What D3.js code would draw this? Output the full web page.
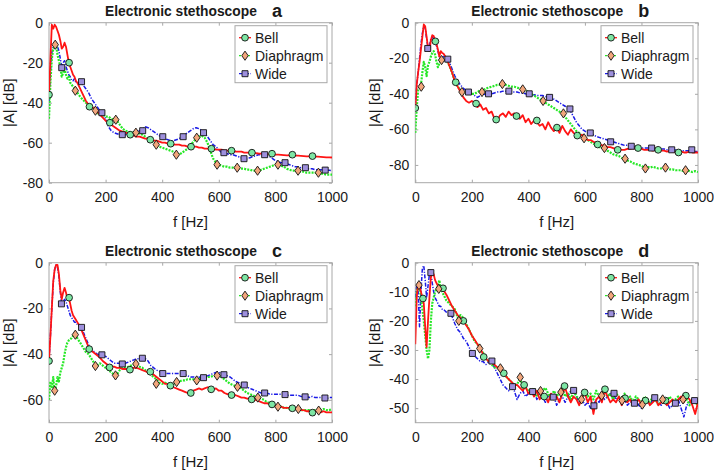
<!DOCTYPE html>
<html><head><meta charset="utf-8">
<script src="https://cdn.jsdelivr.net/npm/d3@7"></script>
<style>
body{margin:0;background:#fff}
svg{display:block;font-family:Arial,"Liberation Sans",sans-serif}
</style>
</head><body>
<svg id="chart" width="714" height="471"></svg>
<script>
// ---------- DATA ----------
const freq = [0,5,10,15,20,25,30,35,40,45,50,55,60,65,70,75,80,85,90,95,100,
 110,120,130,140,150,160,170,180,190,200,
 210,220,230,240,250,260,270,280,290,300,
 310,320,330,340,350,360,370,380,390,400,
 410,420,430,440,450,460,470,480,490,500,
 510,520,530,540,550,560,570,580,590,600,
 610,620,630,640,650,660,670,680,690,700,
 710,720,730,740,750,760,770,780,790,800,
 810,820,830,840,850,860,870,880,890,900,
 910,920,930,940,950,960,970,980,990,1000];

const seriesNames = ["Bell","Diaphragm","Wide"];
const panelLetters = ["a","b","c","d"];
const panelTitle = "Electronic stethoscope";
const yDomains = [[-80,0],[-90,0],[-70,0],[-55,0]];
const yTickValues = [[-80,-60,-40,-20,0],[-80,-60,-40,-20,0],[-60,-40,-20,0],[-50,-40,-30,-20,-10,0]];
const xTickValues = [0,200,400,600,800,1000];
const xLabel = "f [Hz]";
const yLabel = "|A| [dB]";

// Panel a
const bellA = [-36,-18,-1,-3,-1,-2,-4,-6,-9,-13,-12,-10,-12,-16,-20,-22,-24,-26,-27,-29,-30,
 -33,-36,-39,-41,-42,-43,-44.5,-46,-47.5,-49,
 -50,-51,-52,-53,-54,-54.5,-55,-55.5,-56,-56.5,
 -57,-57,-57.5,-58,-58,-58.5,-59,-59,-59.5,-60,
 -60,-60.5,-60.5,-61,-61,-61,-61.5,-61.5,-62,-62,
 -62,-62,-62.5,-62.5,-63,-63,-63,-63,-63.5,-63.5,
 -63.5,-64,-64,-64,-64,-64.5,-64.5,-64.5,-65,-65,
 -65,-65,-65.2,-65.4,-65.5,-65.6,-65.7,-65.8,-65.9,-66,
 -66,-66.1,-66.2,-66.3,-66.3,-66.4,-66.5,-66.5,-66.6,-66.7,
 -66.8,-66.8,-66.9,-67,-67,-67.1,-67.2,-67.3,-67.3,-67.4];
const diaphragmA = [-48,-30,-18,-13,-12,-11,-16,-19,-22,-27,-25,-23,-26,-28,-27,-30,-31,-32,-33,-34,-35,
 -37,-38.5,-40,-41,-42,-43.5,-45,-46,-46,-47,
 -47,-48,-48.5,-49,-51,-53,-54,-54.5,-55,-55,
 -55,-55.5,-56,-57,-58,-59,-60,-61,-62,-62.5,
 -63,-63.5,-64,-64.5,-65.5,-66,-65,-64,-63,-61.5,
 -59.5,-58,-57,-56.5,-57.5,-60,-64,-68,-70,-71,
 -71.5,-72,-72,-72.5,-72.5,-72.5,-73,-73,-73,-73.5,
 -73.5,-74,-74,-74,-73.5,-73,-72.5,-72,-71.5,-71,
 -71,-71.5,-72,-73,-73.5,-74,-74,-74.5,-74.5,-74.5,
 -75,-75,-75,-75,-75.5,-75.5,-75.5,-76,-76,-76];
const wideA = [-40,-25,-15,-12,-11,-10,-12,-14,-18,-22,-20,-19,-22,-24,-26,-27,-29,-29,-28,-30,-30,
 -30,-31,-33,-35,-38,-40,-42,-44,-45,-48,
 -52,-54,-55,-55.5,-56,-56,-56,-55.5,-55,-55,
 -54.5,-54,-53.5,-52,-52.5,-53.5,-54.5,-55.5,-56.5,-57,
 -58,-58.5,-59,-59,-58.5,-58,-57,-56,-55,-54,
 -53,-52.5,-53,-54,-55,-57,-59,-61,-62,-63.5,
 -65,-65,-65.5,-66,-66,-66.5,-67,-67.5,-68,-68,
 -67.5,-67,-66.5,-66,-66,-66,-66.5,-67,-68,-69,
 -69.5,-70,-70,-70.5,-71,-71.5,-72,-72,-72.5,-72.5,
 -73,-73,-73,-73.5,-73.5,-73.5,-73.7,-73.8,-73.8,-74];
const bellMarkersA = [[0,-36],[71,-20],[143,-42],[215,-50],[287,-56],[358,-58.5],[430,-60.5],[502,-62],[574,-63],[645,-64],[717,-65],[788,-65.5],[860,-66],[931,-66.7]];
const diaphragmMarkersA = [[22,-11],[93,-34],[164,-44],[236,-48.5],[307,-55],[379,-61],[450,-66],[522,-57.5],[594,-71],[665,-72.5],[737,-74],[809,-71],[880,-74],[952,-75]];
const wideMarkersA = [[45,-22.5],[115,-29.5],[187,-45],[259,-56],[331,-54],[402,-57],[474,-57],[546,-55],[618,-65],[689,-68],[762,-66],[834,-70],[906,-72.5],[976,-73.7]];

// Panel b
const bellB = [-48,-35,-28,-22,-15,-8,-1,-2,-8,-14,-16,-10,-7,-7.5,-10,-12,-15,-19,-16,-17,-17.5,
 -20,-24,-28,-33,-36,-39,-42,-44,-45,-44,
 -45,-47.5,-46,-49,-48,-51,-50,-54,-55,-52,
 -51,-53,-50,-52,-51,-53,-54,-52,-56,-54,
 -57,-55,-56,-58,-57,-60,-56,-59,-61,-59,
 -62,-58,-61,-63,-60,-62,-63,-64,-63,-65,
 -66,-66,-67,-67.5,-68,-69,-69,-70,-70,-70.5,
 -71,-71,-71.5,-71.5,-71,-71,-70.5,-71,-71,-71,
 -71.5,-71.5,-71.5,-72,-71.5,-72,-72,-72,-72.5,-72,
 -72.5,-73,-73,-72.5,-73,-73,-72.5,-73,-73,-73];
const diaphragmB = [-62,-48,-38,-36,-35,-28,-22,-25,-30,-24,-22,-19,-17,-16,-18,-22,-25,-23,-21,-21,-21,
 -21,-24,-28,-33,-36,-38,-39,-40,-40,-40,
 -40,-39,-38,-38,-37,-36.5,-36,-35.5,-35,-35,
 -34.5,-35,-35.5,-36,-36,-36.5,-37,-37.5,-38,-39,
 -40,-41,-42,-43,-44,-45,-46,-47,-48,-49,
 -50,-51,-53,-55,-57,-59,-61,-62,-64,-65,
 -66,-67,-68,-69,-70,-70,-70.5,-72,-73,-74,
 -74.5,-75,-76,-77,-77.5,-78,-79,-79.5,-80,-80.5,
 -81.5,-81,-81.5,-81,-81.5,-82,-82,-81.5,-82,-82.5,
 -82.5,-83,-83,-83,-83.5,-83,-83.5,-84,-83.5,-84];
const wideB = [-48,-35,-28,-20,-12,-6,-2,-3,-9,-14,-13,-9,-8,-9,-11,-13,-16,-19,-20,-20,-19,
 -20,-22,-26,-30,-33,-35,-37,-38,-39,-40,
 -41,-42,-41,-40.5,-40,-40,-40,-39.5,-39,-39,
 -38.5,-38.5,-38.5,-39,-39,-39,-39.5,-39.5,-40,-40.5,
 -40.5,-40.5,-41,-41,-41,-41.5,-42,-42.5,-43,-44,
 -45,-46,-47,-48,-50,-53,-56,-58,-60,-61,
 -62,-62.5,-63,-64,-64.5,-65,-65.5,-66,-66.5,-67,
 -67.5,-68,-68.5,-69,-69,-69.5,-69.5,-70,-70,-70.5,
 -70.5,-70.5,-70.5,-71,-71,-71,-71,-71,-71.5,-71.5,
 -71.5,-71.5,-72,-72,-72,-72,-72,-72,-72.5,-72.5];
const bellMarkersB = [[0,-48],[71,-10.5],[143,-33.5],[215,-45.5],[286,-54.5],[358,-52.5],[430,-55],[501,-59],[573,-63.5],[645,-68.5],[716,-71.5],[788,-70.5],[859,-71.5],[931,-73]];
const diaphragmMarkersB = [[21,-36],[93,-21],[165,-39],[236,-39],[308,-34.5],[380,-37.5],[452,-44],[524,-51],[597,-65],[669,-70.5],[742,-76.5],[814,-82],[885,-81.5],[956,-83]];
const wideMarkersB = [[44,-14.5],[115,-20.5],[188,-39],[259,-40],[331,-38.5],[403,-40],[475,-42],[547,-48.5],[619,-62],[691,-67],[764,-69.5],[836,-70.5],[907,-71.5],[978,-71.5]];

// Panel c
const bellC = [-43,-32,-20,-8,-3,-1,-1,-5,-12,-16,-13,-11,-13,-16,-15,-18,-21,-23,-24,-25,-26,
 -28,-31,-34,-37,-38.5,-39.5,-40.5,-41.5,-43,-44,
 -45,-45.5,-45.5,-46,-46,-46.5,-46.5,-46.5,-46.5,-46,
 -46,-46.5,-47,-47.5,-48,-48,-49,-50,-51,-52,
 -53,-53,-54,-54.5,-55,-55.5,-56,-56.5,-57,-56.5,
 -56,-55.5,-55,-55.5,-55,-54.5,-55,-55.5,-55,-56,
 -56,-57,-57.5,-57.5,-58,-58,-58.5,-59,-59,-59.5,
 -59.5,-60,-60,-60.5,-61,-61.5,-61.5,-62,-62,-62.5,
 -63,-63,-63.5,-63.5,-63.5,-64,-64,-64,-64.5,-64.5,
 -65,-65,-65.5,-65,-65,-65.5,-65,-65.5,-65.5,-65.5];
const diaphragmC = [-60,-52,-55,-50,-57,-54,-50,-52,-48,-46,-44,-40,-37,-35,-34,-33.5,-33,-32,-31.5,-32,-33,
 -35,-37,-39,-40,-42,-44,-45,-44,-45,-46,
 -47,-48,-49,-49,-47,-46,-46,-45.5,-45,-44.5,
 -45,-45.5,-46,-47,-48,-49,-50,-51,-52.5,-53,
 -52.5,-53,-53,-53,-52.5,-52,-51.5,-51.5,-51,-51,
 -51,-51,-51,-50.5,-50.5,-50,-50,-49.5,-49.5,-49.5,
 -50,-51,-52,-53,-53.5,-54,-54.5,-55,-56,-57,
 -57.5,-58,-58.5,-59,-59.5,-60,-61,-61.5,-62,-62.5,
 -63,-63,-63.5,-63.5,-64,-64,-64,-64,-64.5,-64.5,
 -64.5,-64.5,-65,-64.5,-64.5,-64.5,-64,-64.5,-64.5,-64];
const wideC = [-43,-32,-20,-9,-3,-1,-2,-6,-13,-18,-17,-16,-17,-19,-21,-23,-24,-25,-26,-26,-27,
 -28,-30,-33,-36,-38,-39,-40,-40,-40.5,-41,
 -42,-43,-44,-44,-44,-44.5,-44,-43.5,-43,-42.5,
 -42,-42,-41.5,-42,-43,-45,-46,-47,-47.5,-48.5,
 -48.5,-48.5,-48.5,-48.5,-48.5,-48.5,-48.5,-49,-49.5,-50,
 -50,-50,-50,-50.5,-50,-49.5,-49,-48.5,-48,-48,
 -48.5,-49,-49.5,-50,-51,-52,-52.5,-53,-54,-54.5,
 -55,-55.5,-56,-56.5,-57,-57,-57,-57.5,-57.5,-57.5,
 -57.5,-57.5,-57.5,-58,-58,-58,-58,-58,-58.5,-58.5,
 -58.5,-59,-58.5,-59,-59,-59,-59,-59.5,-59,-59];
const bellMarkersC = [[0,-43],[71,-15.3],[142,-37.8],[214,-45.8],[286,-46.8],[358,-47.7],[429,-53.8],[501,-57],[573,-55.4],[645,-57.9],[716,-59.8],[788,-62],[860,-63.7],[931,-65.6]];
const diaphragmMarkersC = [[20,-56],[93,-31.5],[164,-45.2],[235,-49.3],[307,-44.3],[379,-53],[451,-52.2],[522,-51.5],[594,-49.4],[666,-54.3],[738,-59],[809,-63],[881,-64],[953,-64.7]];
const wideMarkersC = [[44,-18],[115,-28.3],[187,-40.3],[259,-44.3],[330,-41.8],[402,-48.5],[474,-48.5],[546,-50.3],[618,-49],[690,-53.5],[762,-57],[834,-57.7],[905,-58.7],[975,-59.2]];

// Panel d
const bellD = [-28,-12,-7,-8,-10,-12,-14,-22,-29,-20,-12,-5,-3,-4,-6,-7,-8,-8.5,-9,-9,-9.5,
 -11,-13,-15,-16.5,-18,-19,-20,-21.5,-23,-25,
 -26.5,-28,-29.5,-31.5,-33,-34,-34.5,-35,-36,-37,
 -38,-39,-40,-41,-42,-42,-43,-44,-42.5,-45,
 -44,-46,-44,-47,-45,-46,-48,-45,-47,-46,
 -48,-45,-43,-46,-48,-46,-47,-49,-46,-45,
 -48,-46,-52,-47,-46,-48,-44,-46,-48,-47,
 -48,-46,-49,-47,-48,-47,-49,-48,-47,-49,
 -47.5,-47,-49,-48,-47,-49,-48,-47.5,-49,-48,
 -47,-49,-47,-46,-48,-46,-47,-49,-52,-48];
const diaphragmD = [-15,-10,-8,-8,-12,-16,-20,-25,-30,-33,-30,-20,-14,-12,-10,-9,-8,-6,-9,-10,-11,
 -13,-14,-15,-16,-19,-18,-19,-21,-23,-25,
 -27,-28,-30,-31,-33,-34,-35,-36,-36,-37,
 -38,-39,-40,-41,-42,-42,-39.5,-43,-43,-44,
 -45,-43,-46,-44,-44,-43,-45,-47,-44,-46,
 -44.5,-43,-46,-45,-47,-44,-46,-47,-47,-44,
 -46,-45,-47,-44,-46,-45.5,-43,-46,-45,-47,
 -45,-46,-47.5,-45,-47,-46,-48,-46,-47,-48.5,
 -46,-47,-48,-46,-47,-49,-47,-47,-48,-46,
 -48,-47,-46,-47,-46,-47,-49,-47,-48,-49];
const wideD = [-12,-8,-10,-22,-10,-2,-1,-6,-12,-8,-4,-3.5,-7,-10,-12,-13,-14,-15,-15,-16,-16,
 -17,-17.5,-18.5,-21,-23,-24,-26,-27,-29,-31,
 -32,-33,-34,-34,-35,-34,-34,-36,-38,-40,
 -42,-43,-44,-43,-44,-47,-45,-44,-46,-45,
 -44.5,-44,-47,-45,-46,-48,-46,-45,-46,-49,
 -47,-46,-48,-46,-44,-44,-46,-48,-47,-49,
 -48,-50,-49,-47,-48,-46,-47,-46,-45,-45,
 -47,-46,-48,-47,-49,-48,-48,-47,-49,-50,
 -48,-47,-49,-47,-46,-48,-49,-47,-48,-50,
 -49,-48,-47,-50,-53,-49,-48,-47,-47.5,-48];
const bellMarkersD = [[27,-12.3],[98,-8.8],[170,-20],[242,-32.4],[313,-38],[385,-42],[456,-46],[528,-42.4],[599,-44.6],[671,-43.5],[742,-46.6],[814,-47.4],[885,-47.4],[957,-45.7]];
const diaphragmMarkersD = [[13,-7.7],[83,-9],[154,-20],[228,-29.5],[301,-36.3],[371,-39.4],[443,-44.1],[515,-44.5],[588,-47],[659,-45.7],[731,-47.4],[803,-48.8],[875,-47],[947,-47]];
const wideMarkersD = [[55,-3.4],[126,-17.4],[202,-31.2],[271,-33.8],[344,-42.6],[415,-44.3],[488,-46.2],[560,-43.9],[632,-49.2],[703,-44.9],[775,-48.3],[847,-46.4],[920,-48.3],[988,-47.4]];

// ---------- TABLE BUILT FROM THE ARRAYS ----------
const panels = [
  {lines:[bellA,diaphragmA,wideA], markers:[bellMarkersA,diaphragmMarkersA,wideMarkersA]},
  {lines:[bellB,diaphragmB,wideB], markers:[bellMarkersB,diaphragmMarkersB,wideMarkersB]},
  {lines:[bellC,diaphragmC,wideC], markers:[bellMarkersC,diaphragmMarkersC,wideMarkersC]},
  {lines:[bellD,diaphragmD,wideD], markers:[bellMarkersD,diaphragmMarkersD,wideMarkersD]}
];

// ---------- LAYOUT & STYLE ----------
const boxes = [
  {left:49, top:22.7, width:283, height:160},
  {left:415.3, top:22.7, width:282.7, height:160},
  {left:49, top:262.7, width:283, height:160},
  {left:415.3, top:262.7, width:282.7, height:160}
];
const lineColor = {Bell:"#ff1414", Diaphragm:"#26e826", Wide:"#1a1ae6"};
const lineDash = {Bell:null, Diaphragm:"2,1.2", Wide:"4,1.5,1.2,1.5"};
const lineWidth = {Bell:1.8, Diaphragm:2.2, Wide:1.5};
const markerFill = {Bell:"#7ee6a4", Diaphragm:"#f2a67c", Wide:"#9d8fdc"};
const drawOrder = [2,1,0];
const axisGray = "#a8a8a8";
const textColor = "#1a1a1a";

const svg = d3.select("#chart");

function markerPath(name){
  if(name==="Bell") return d3.symbol(d3.symbolCircle, 36)();
  if(name==="Wide") return d3.symbol(d3.symbolSquare, 36)();
  return "M0,-4.6L3.2,0L0,4.6L-3.2,0Z";
}

panels.forEach((p, i) => {
  const b = boxes[i];
  const g = svg.append("g");
  const x = d3.scaleLinear().domain([0,1000]).range([b.left, b.left + b.width]);
  const y = d3.scaleLinear().domain(yDomains[i]).range([b.top + b.height, b.top]);

  const clipId = "clip" + i;
  svg.append("clipPath").attr("id", clipId).append("rect")
    .attr("x", b.left).attr("y", b.top).attr("width", b.width).attr("height", b.height);

  // box
  g.append("rect").attr("x", b.left).attr("y", b.top).attr("width", b.width).attr("height", b.height)
    .attr("fill", "#fff").attr("stroke", axisGray).attr("stroke-width", 1);

  // axes
  const styleAxis = sel => {
    sel.select(".domain").remove();
    sel.selectAll(".tick line").attr("stroke", axisGray);
    sel.selectAll(".tick text").attr("fill", textColor).attr("font-size", 14)
      .attr("font-family", "Arial, 'Liberation Sans', sans-serif");
  };
  g.append("g").attr("transform", `translate(0,${b.top + b.height})`)
    .call(d3.axisBottom(x).tickValues(xTickValues).tickSizeInner(-3).tickSizeOuter(0).tickPadding(9).tickFormat(d3.format("d")))
    .call(styleAxis);
  g.append("g").attr("transform", `translate(0,${b.top})`)
    .call(d3.axisTop(x).tickValues(xTickValues).tickSizeInner(-3).tickSizeOuter(0).tickFormat(""))
    .call(styleAxis);
  g.append("g").attr("transform", `translate(${b.left},0)`)
    .call(d3.axisLeft(y).tickValues(yTickValues[i]).tickSizeInner(-3).tickSizeOuter(0).tickPadding(6)
      .tickFormat(d => String(d)))
    .call(styleAxis);
  g.append("g").attr("transform", `translate(${b.left + b.width},0)`)
    .call(d3.axisRight(y).tickValues(yTickValues[i]).tickSizeInner(-3).tickSizeOuter(0).tickFormat(""))
    .call(styleAxis);

  // lines
  const plot = g.append("g").attr("clip-path", `url(#${clipId})`);
  const line = d3.line().x((d, k) => x(freq[k])).y(d => y(d));
  drawOrder.forEach(si => {
    const name = seriesNames[si];
    plot.append("path").datum(p.lines[si])
      .attr("d", line).attr("fill", "none")
      .attr("stroke", lineColor[name]).attr("stroke-width", lineWidth[name])
      .attr("stroke-dasharray", lineDash[name]).attr("stroke-linejoin", "round");
  });
  // markers
  [0,1,2].forEach(si => {
    const name = seriesNames[si];
    plot.selectAll(null).data(p.markers[si]).join("path")
      .attr("d", markerPath(name))
      .attr("transform", d => `translate(${x(d[0])},${y(d[1])})`)
      .attr("fill", markerFill[name]).attr("stroke", "#111").attr("stroke-width", 0.9);
  });

  // legend
  const lw = 92, lh = 57;
  const lx = b.left + b.width - 5 - lw, ly = b.top + 3;
  const lg = g.append("g");
  lg.append("rect").attr("x", lx).attr("y", ly).attr("width", lw).attr("height", lh)
    .attr("fill", "#fff").attr("stroke", axisGray).attr("stroke-width", 1);
  seriesNames.forEach((name, k) => {
    const cy = ly + 12 + k * 18;
    lg.append("line").attr("x1", lx + 4).attr("x2", lx + 16).attr("y1", cy).attr("y2", cy)
      .attr("stroke", lineColor[name]).attr("stroke-width", 1.3)
      .attr("stroke-dasharray", name === "Bell" ? null : (name === "Diaphragm" ? "2,1" : "3,1.5,1,1.5"));
    lg.append("path").attr("d", markerPath(name)).attr("transform", `translate(${lx + 10},${cy})`)
      .attr("fill", markerFill[name]).attr("stroke", "#111").attr("stroke-width", 0.9);
    lg.append("text").attr("x", lx + 20).attr("y", cy).attr("dy", "0.36em")
      .attr("font-size", 14).attr("fill", textColor).text(name);
  });

  // titles
  g.append("text").attr("x", b.left + 56).attr("y", b.top - 7)
    .attr("font-size", 13.8).attr("font-weight", "bold").attr("fill", textColor).text(panelTitle);
  g.append("text").attr("x", b.left + 223).attr("y", b.top - 6)
    .attr("font-size", 18).attr("font-weight", "bold").attr("fill", textColor).text(panelLetters[i]);

  // axis labels
  g.append("text").attr("x", b.left + b.width / 2).attr("y", b.top + b.height + 44)
    .attr("text-anchor", "middle").attr("font-size", 15).attr("fill", textColor).text(xLabel);
  g.append("text").attr("transform", `translate(${b.left - 35},${b.top + b.height / 2}) rotate(-90)`)
    .attr("text-anchor", "middle").attr("font-size", 15).attr("fill", textColor).text(yLabel);
});
</script>
</body></html>
